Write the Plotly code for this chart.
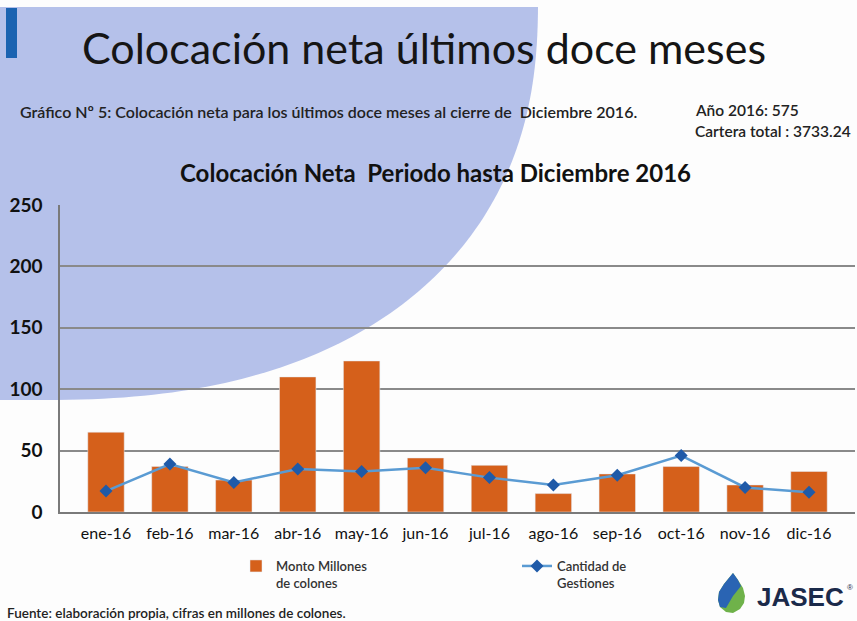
import numpy as np
import plotly.graph_objects as go

# data
meses = ["ene-16", "feb-16", "mar-16", "abr-16", "may-16", "jun-16",
         "jul-16", "ago-16", "sep-16", "oct-16", "nov-16", "dic-16"]
monto_millones = [65, 37, 26, 110, 123, 44, 38, 15, 31, 37, 22, 33]
cantidad_gestiones = [17, 39, 24, 35, 33, 36, 28, 22, 30, 46, 20, 16]
y_ticks = [0, 50, 100, 150, 200, 250]

W, H = 857, 621
L, R, T, B = 60, 2, 205, 109
PW, PH = W - L - R, H - T - B

FONT = "Lato"


def px(x):
    # figure pixel x -> paper coordinate
    return (x - L) / PW


def py(y):
    # figure pixel y (from top) -> paper coordinate
    return (H - B - y) / PH


def path_from(points):
    parts = [f"{'M' if i == 0 else 'L'} {px(x):.5f},{py(y):.5f}" for i, (x, y) in enumerate(points)]
    return " ".join(parts) + " Z"


fig = go.Figure()

fig.add_trace(go.Bar(
    x=meses, y=monto_millones,
    name="Monto Millones<br>de colones",
    marker=dict(color="#d5601b"),
))

fig.add_trace(go.Scatter(
    x=meses, y=cantidad_gestiones,
    name="Cantidad de<br>Gestiones",
    mode="lines+markers",
    line=dict(color="#5a9bd3", width=2.5),
    marker=dict(symbol="diamond", size=10, color="#1f5aa8"),
))

# light blue decorative blob in the top-left corner (superellipse)
t = np.linspace(0, np.pi / 2, 90)
n = 2.35
bx = 40 + 498 * np.cos(t) ** (2 / n)
by = 0 + 400 * np.sin(t) ** (2 / n)
by = np.maximum(by, 7)
blob = [(0, 7)] + list(zip(bx, by)) + [(0, 400)]

shapes = [
    dict(type="path", path=path_from(blob), xref="paper", yref="paper",
         fillcolor="#b5c1ea", line=dict(width=0), layer="below"),
    dict(type="rect", xref="paper", yref="paper",
         x0=px(6), x1=px(17), y0=py(58), y1=py(8),
         fillcolor="#1b63b1", line=dict(width=0), layer="below"),
]

# logo drop
drop = [(733, 573), (738, 580), (743, 588), (745, 596), (744, 603), (740, 609),
        (733, 613), (726, 612), (720, 607), (718, 600), (719, 592), (724, 584)]
shapes.append(dict(type="path", path=path_from(drop), xref="paper", yref="paper",
                   fillcolor="#6fb24a", line=dict(width=0)))
drop_blue = [(733, 573), (738, 580), (741, 586), (733, 596), (726, 608), (720, 607),
             (718, 600), (719, 592), (724, 584)]
shapes.append(dict(type="path", path=path_from(drop_blue), xref="paper", yref="paper",
                   fillcolor="#2a64b3", line=dict(width=0)))

annotations = [
    dict(text="Colocación neta últimos doce meses", x=px(424), y=py(47),
         font=dict(family=FONT, size=43, color="#151515")),
    dict(text="Gráfico Nº 5: Colocación neta para los últimos doce meses al cierre de  Diciembre 2016.",
         x=px(18), y=py(111), xanchor="left",
         font=dict(family=FONT, size=16, color="#222222", weight=600)),
    dict(text="Año 2016: 575", x=px(693), y=py(110), xanchor="left",
         font=dict(family=FONT, size=15.5, color="#222222", weight=600)),
    dict(text="Cartera total : 3733.24", x=px(693), y=py(131), xanchor="left",
         font=dict(family=FONT, size=15.5, color="#222222", weight=600)),
    dict(text="<b>Colocación Neta  Periodo hasta Diciembre 2016</b>", x=px(435), y=py(172),
         font=dict(family=FONT, size=24, color="#111111")),
    dict(text="Fuente: elaboración propia, cifras en millones de colones.",
         x=px(5), y=py(613), xanchor="left",
         font=dict(family=FONT, size=13.5, color="#222222", weight=600)),
    dict(text="<b>JASEC</b>", x=px(755), y=py(597), xanchor="left",
         font=dict(family="Liberation Sans", size=26, color="#1b2a4a")),
    dict(text="®", x=px(845), y=py(587), xanchor="left",
         font=dict(family="Liberation Sans", size=8, color="#1b2a4a")),
]
for a in annotations:
    a.update(xref="paper", yref="paper", showarrow=False)
    a.setdefault("xanchor", "center")
    a.setdefault("yanchor", "middle")

fig.update_layout(
    width=W, height=H,
    margin=dict(l=L, r=R, t=T, b=B),
    paper_bgcolor="#fdfdfd",
    plot_bgcolor="rgba(0,0,0,0)",
    bargap=0.43,
    showlegend=True,
    legend=dict(
        orientation="h", x=px(236), y=py(551), xanchor="left", yanchor="top",
        entrywidth=236, entrywidthmode="pixels", valign="top",
        font=dict(family=FONT, size=13, color="#333333", weight=600),
        bgcolor="rgba(0,0,0,0)", itemwidth=30,
    ),
    shapes=shapes,
    annotations=annotations,
    xaxis=dict(
        showgrid=False, showline=True, linecolor="#7a7a7a", linewidth=1.5,
        tickfont=dict(family=FONT, size=16, color="#111111"),
        ticklabelstandoff=6, fixedrange=True,
    ),
    yaxis=dict(
        range=[0, 250], tickvals=y_ticks,
        showgrid=True, gridcolor="#8a8a8a", gridwidth=1.5,
        showline=True, linecolor="#7a7a7a", linewidth=1.5,
        zeroline=False,
        tickfont=dict(family=FONT, size=19, color="#111111", weight="bold"),
        ticklabelstandoff=12, fixedrange=True,
    ),
)

fig.write_html("out.html", config={"displayModeBar": False},
               post_script="document.body.style.margin='0';")
